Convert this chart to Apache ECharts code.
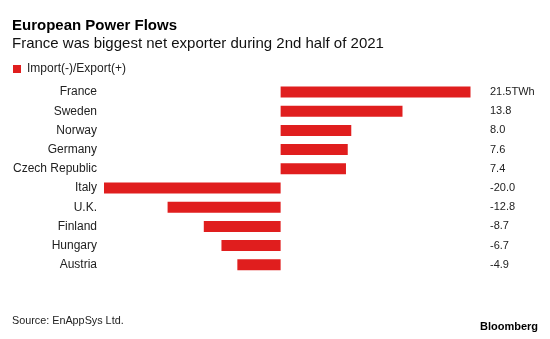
<!DOCTYPE html>
<html><head><meta charset="utf-8">
<script src="https://cdn.jsdelivr.net/npm/echarts@6/dist/echarts.min.js"></script>
<style>html,body{margin:0;padding:0;background:#fff}#c{width:550px;height:339px}</style>
</head><body><div id="c"></div>
<script>
const countries = ["France","Sweden","Norway","Germany","Czech Republic","Italy","U.K.","Finland","Hungary","Austria"];
const flows = [21.5, 13.8, 8.0, 7.6, 7.4, -20.0, -12.8, -8.7, -6.7, -4.9];
const unit = "TWh";
const seriesName = "Import(-)/Export(+)";
const FONT = "Liberation Sans, Arial, sans-serif";
const RED = "#e01e1e";
const valueLabels = flows.map((v,i)=> v.toFixed(1) + (i===0 ? unit : ""));
const chart = echarts.init(document.getElementById('c'));
chart.setOption({
  animation:false,
  textStyle:{fontFamily:FONT},
  title:[
    {text:"European Power Flows", left:12, top:18, padding:0, textStyle:{fontSize:15, fontWeight:'bold', color:'#000', fontFamily:FONT}},
    {text:"France was biggest net exporter during 2nd half of 2021", left:12, top:36, padding:0, textStyle:{fontSize:15, fontWeight:'normal', color:'#111', fontFamily:FONT}},
    {text:"Source: EnAppSys Ltd.", left:12, top:316, padding:0, textStyle:{fontSize:10.8, fontWeight:'normal', color:'#222', fontFamily:FONT}},
    {text:"Bloomberg", right:12, top:321, padding:0, textStyle:{fontSize:11, fontWeight:'bold', color:'#000', fontFamily:FONT}}
  ],
  legend:{left:13, top:63, padding:0, itemWidth:8, itemHeight:8, itemGap:5, icon:'rect',
    textStyle:{fontSize:12, color:'#222', fontFamily:FONT, padding:[0,0,0,1]}, data:[seriesName]},
  grid:{left:104, top:82.4, width:366.5, height:192, containLabel:false},
  xAxis:{type:'value', min:-20, max:21.5, show:false},
  yAxis:[
    {type:'category', data:countries, inverse:true, position:'left',
     axisLine:{show:false}, axisTick:{show:false}, splitLine:{show:false},
     axisLabel:{margin:7, fontSize:12, color:'#222', fontFamily:FONT}},
    {type:'category', data:valueLabels, inverse:true, position:'right',
     axisLine:{show:false}, axisTick:{show:false}, splitLine:{show:false},
     axisLabel:{margin:19.5, fontSize:11, color:'#222', fontFamily:FONT, align:'left'}}
  ],
  series:[{name:seriesName, type:'bar', data:flows, barWidth:11, itemStyle:{color:RED}, yAxisIndex:0}]
});
</script></body></html>
